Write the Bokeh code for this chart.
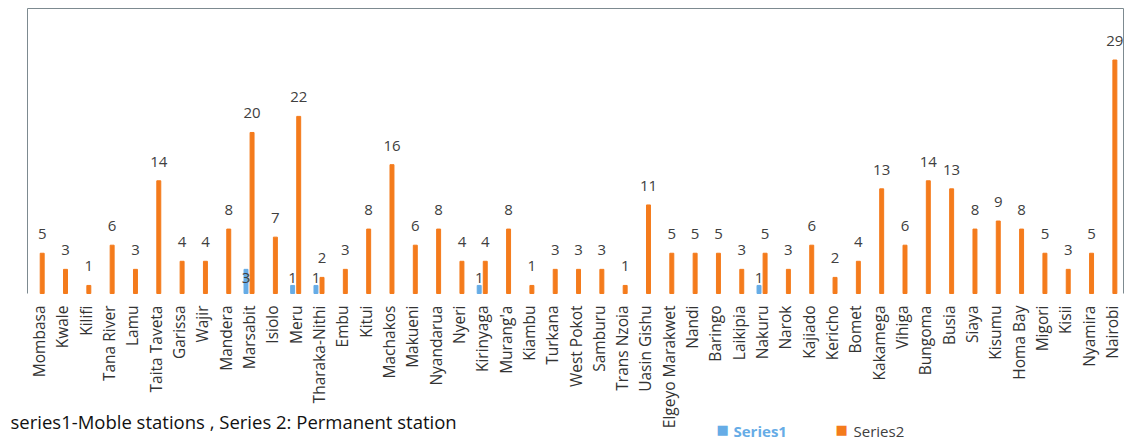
import math
from bokeh.plotting import figure
from bokeh.models import ColumnDataSource, Range1d, LabelSet, Label
from bokeh.core.properties import value
from bokeh.embed import file_html
from bokeh.resources import INLINE

counties = ["Mombasa", "Kwale", "Kilifi", "Tana River", "Lamu", "Taita Taveta", "Garissa", "Wajir",
            "Mandera", "Marsabit", "Isiolo", "Meru", "Tharaka-Nithi", "Embu", "Kitui", "Machakos",
            "Makueni", "Nyandarua", "Nyeri", "Kirinyaga", "Murang'a", "Kiambu", "Turkana", "West Pokot",
            "Samburu", "Trans Nzoia", "Uasin Gishu", "Elgeyo Marakwet", "Nandi", "Baringo", "Laikipia",
            "Nakuru", "Narok", "Kajiado", "Kericho", "Bomet", "Kakamega", "Vihiga", "Bungoma", "Busia",
            "Siaya", "Kisumu", "Homa Bay", "Migori", "Kisii", "Nyamira", "Nairobi"]
series2 = [5, 3, 1, 6, 3, 14, 4, 4, 8, 20, 7, 22, 2, 3, 8, 16, 6, 8, 4, 4, 8, 1, 3, 3, 3, 1, 11,
           5, 5, 5, 3, 5, 3, 6, 2, 4, 13, 6, 14, 13, 8, 9, 8, 5, 3, 5, 29]
series1_counties = ["Marsabit", "Meru", "Tharaka-Nithi", "Kirinyaga", "Nakuru"]
series1_values = [3, 1, 1, 1, 1]
note_text = "series1-Moble stations , Series 2: Permanent station"
legend_names = ["Series1", "Series2"]

ORANGE = "#F47B1C"
BLUE = "#66ACE6"
TXT = "#404040"
FONT = "Open Sans"

# layout in pixels (canvas = plot frame)
W, H = 1131, 440
PLOT_L, PLOT_R, PLOT_T, BASE = 27, 1123, 8, 293
YMAX = 35.4
N = len(counties)
px_x = (PLOT_R - PLOT_L) / N
px_y = (BASE - PLOT_T) / YMAX
x0 = -0.5 - PLOT_L / px_x
x1 = N - 0.5 + (W - PLOT_R) / px_x
y0 = -(H - BASE) / px_y
y1 = YMAX + PLOT_T / px_y

idx = list(range(N))
s2 = ColumnDataSource(dict(x=[i + 0.13 for i in idx], top=series2, lab=[str(v) for v in series2]))
b_idx = [counties.index(c) for c in series1_counties]
s1 = ColumnDataSource(dict(x=[i - 0.13 for i in b_idx], top=series1_values,
                           base=[0] * len(b_idx), lab=[str(v) for v in series1_values]))
cats = ColumnDataSource(dict(x=idx, y=[0] * N, name=counties))

p = figure(width=W, height=H, output_backend="svg", toolbar_location=None,
           x_range=Range1d(x0, x1), y_range=Range1d(y0, y1),
           min_border=0, min_border_left=0, min_border_right=0, min_border_top=0,
           min_border_bottom=0)
p.outline_line_color = None
p.grid.visible = False
p.axis.visible = False
p.background_fill_color = "white"
p.border_fill_color = "white"

# plot-area border (left, top, right)
p.line(x=[-0.5, -0.5, N - 0.5, N - 0.5], y=[0, YMAX, YMAX, 0], line_color="#7d8a90", line_width=1)

p.vbar(x="x", top="top", width=0.17, color=ORANGE, source=s2)
p.vbar(x="x", top="top", width=0.17, color=BLUE, source=s1)

p.add_layout(LabelSet(x="x", y="top", text="lab", source=s2, text_align="center",
                      text_baseline="alphabetic", y_offset=14, text_font=value(FONT),
                      text_font_size="15px", text_color=TXT))
p.add_layout(LabelSet(x="x", y="base", text="lab", source=s1, text_align="center",
                      text_baseline="alphabetic", y_offset=11, text_font=value(FONT),
                      text_font_size="15px", text_color=TXT))

# category labels
p.add_layout(LabelSet(x="x", y="y", text="name", source=cats, angle=math.pi / 2,
                      text_align="right", text_baseline="middle", y_offset=-12,
                      text_font=value(FONT), text_font_size="15.5px", text_color="#333333"))

p.add_layout(Label(x=10, y=19, x_units="screen", y_units="screen", text=note_text,
                   text_font=FONT, text_font_size="18.5px", text_color="#111111",
                   text_baseline="alphabetic"))
p.add_layout(Label(x=716, y=11, x_units="screen", y_units="screen", text="■",
                   text_font="DejaVu Sans", text_font_size="13px", text_color=BLUE,
                   text_baseline="alphabetic"))
p.add_layout(Label(x=733, y=10, x_units="screen", y_units="screen", text=legend_names[0],
                   text_font=FONT, text_font_size="15px", text_color=BLUE, text_font_style="bold",
                   text_baseline="alphabetic"))
p.add_layout(Label(x=835, y=11, x_units="screen", y_units="screen", text="■",
                   text_font="DejaVu Sans", text_font_size="13px", text_color=ORANGE,
                   text_baseline="alphabetic"))
p.add_layout(Label(x=853, y=10, x_units="screen", y_units="screen", text=legend_names[1],
                   text_font=FONT, text_font_size="15px", text_color=TXT,
                   text_baseline="alphabetic"))

open("out.html", "w").write(file_html(p, INLINE))
